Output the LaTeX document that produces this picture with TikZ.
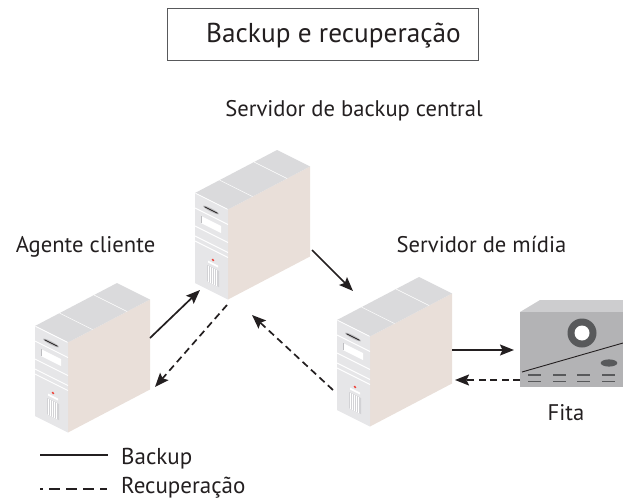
\documentclass[tikz,border=0pt]{standalone}
\usepackage{fontspec}
\setmainfont{PT Sans}
\usetikzlibrary{arrows.meta}

\definecolor{ink}{HTML}{231F20}
\definecolor{boxline}{HTML}{58595B}
\definecolor{srvtop}{HTML}{DADADC}
\definecolor{srvfront}{HTML}{E6E6E8}
\definecolor{srvside}{HTML}{E9DFD9}
\definecolor{srvslot}{HTML}{BDBDC0}
\definecolor{srvgrille}{HTML}{D2D2D5}
\definecolor{led}{HTML}{EE4036}
\definecolor{tapefront}{HTML}{B3B3B5}
\definecolor{tapetop}{HTML}{CDCDCF}
\definecolor{tapedark}{HTML}{58595B}

\tikzset{
  flow/.style={line width=1.7pt, draw=ink, -{Stealth[length=14pt,width=11pt,inset=2.5pt]}},
  backflow/.style={flow, dash pattern=on 7pt off 4.5pt},
  label/.style={text=ink, font=\fontsize{22.6}{26}\selectfont, inner sep=0pt, anchor=base},
  legendtext/.style={text=ink, font=\fontsize{23}{27}\selectfont, inner sep=0pt, anchor=base west},
  legendline/.style={line width=1.6pt, draw=ink},
}

% Tower server; #1,#2 = top-left corner of the front panel
\newcommand\towerserver[2]{%
\begin{scope}[shift={(#1,#2)}]
  % side, top and front faces
  \fill[srvside] (33,16.5) -- (115,-26.5) -- (115,63.5) -- (33,106.5) -- cycle;
  \fill[srvtop] (0,0) -- (82,-43) -- (115,-26.5) -- (33,16.5) -- cycle;
  \draw[white, line width=0.5pt] (0.3*82,-0.3*43) -- ++(33,16.5);
  \draw[white, line width=0.5pt] (0.72*82,-0.72*43) -- ++(33,16.5);
  \fill[srvfront] (0,0) -- (33,16.5) -- (33,106.5) -- (0,90) -- cycle;
  \draw[white, line width=0.8pt] (0.5,0.3) -- (32.5,16.3);
  % front panel details, drawn on the slanted face
  \begin{scope}[yslant=-0.5]
    \fill[srvslot] (16,9) ellipse[x radius=8, y radius=1.8];
    \draw[ink, line width=0.7pt] (9.5,9) -- (22.5,9);
    \draw[white, line width=0.9pt] (0,15) -- (33,15);
    \fill[white] (6,20) rectangle (26,27);
    \draw[srvslot, line width=0.8pt] (6.4,20) -- (6.4,27);
    \draw[white, line width=0.9pt] (0,33) -- (33,33);
    \draw[white, line width=0.9pt] (0,43) -- (33,43);
    \draw[white, line width=0.9pt] (0,48) -- (33,48);
    \fill[led] (18,58) circle[radius=1.3];
    \fill[white] (13,61) rectangle (23,63);
    \fill[srvgrille] (12,66) rectangle (24,82);
    \foreach \gx in {13.5,15.5,...,23} \draw[white, line width=0.3pt] (\gx,66) -- (\gx,82);
  \end{scope}
\end{scope}}

\begin{document}
\begin{tikzpicture}[x=1pt, y=-1pt]
\useasboundingbox (0,0) rectangle (623,500);

% title box and its text
\node[draw=boxline, line width=0.8pt, minimum width=311pt, minimum height=52pt,
      inner sep=0pt] (titlebox) at (322.5,34) {};
\node[text=ink, font=\fontsize{27.3}{31}\selectfont, inner sep=0pt, anchor=base]
      (title) at (333.5,43) {Backup e recuperação};

% machines
\towerserver{195}{193}
\towerserver{35}{326}
\towerserver{337}{320}

% tape drive
\fill[tapetop] (520,312) -- (540,300) -- (623,300) -- (623,312) -- cycle;
\fill[tapefront] (520,312) rectangle (623,387);
\fill[tapedark] (582,333) circle[radius=14.5];
\fill[white] (582,333) circle[radius=7.5];
\draw[ink, line width=0.9pt] (522,372) -- (623,343);
\fill[tapedark] (609,363) ellipse[x radius=8.3, y radius=3.6];
\foreach \dx in {528,553,577,602} {
  \draw[tapedark, line width=1.2pt] (\dx,375) -- ++(13,0);
  \draw[tapedark, line width=1.2pt] (\dx,381.5) -- ++(13,0);
}

% labels
\node[label] (lcentral) at (354,117) {Servidor de backup central};
\node[label] (lclient) at (85.5,252) {Agente cliente};
\node[label] (lmedia) at (481.5,252) {Servidor de mídia};
\node[label] (ltape) at (566,420) {Fita};

% arrow end points
\coordinate (clOut) at (150,338);
\coordinate (csIn) at (200,290);
\coordinate (csOut) at (227,305);
\coordinate (clIn) at (155,387);
\coordinate (csOutB) at (312,250);
\coordinate (msIn) at (353,291);
\coordinate (msOut) at (333,390);
\coordinate (csInB) at (252,315);
\coordinate (msOutB) at (452,350);
\coordinate (tpIn) at (514,350);
\coordinate (tpOut) at (520,380);
\coordinate (msInB) at (455,380);

% data flows
\draw[flow] (clOut) -- (csIn);
\draw[backflow] (csOut) -- (clIn);
\draw[flow] (csOutB) -- (msIn);
\draw[backflow] (msOut) -- (csInB);
\draw[flow] (msOutB) -- (tpIn);
\draw[backflow] (tpOut) -- (msInB);

% legend
\coordinate (lgA) at (40,455);
\coordinate (lgB) at (108,455);
\coordinate (lgC) at (40,489);
\coordinate (lgD) at (107,489);
\draw[legendline] (lgA) -- (lgB);
\draw[legendline, dash pattern=on 11pt off 6pt, dash phase=8pt] (lgC) -- (lgD);
\node[legendtext] (lbackup) at (121,464) {Backup};
\node[legendtext] (lrecup) at (121,493.5) {Recuperação};
\end{tikzpicture}
\end{document}
